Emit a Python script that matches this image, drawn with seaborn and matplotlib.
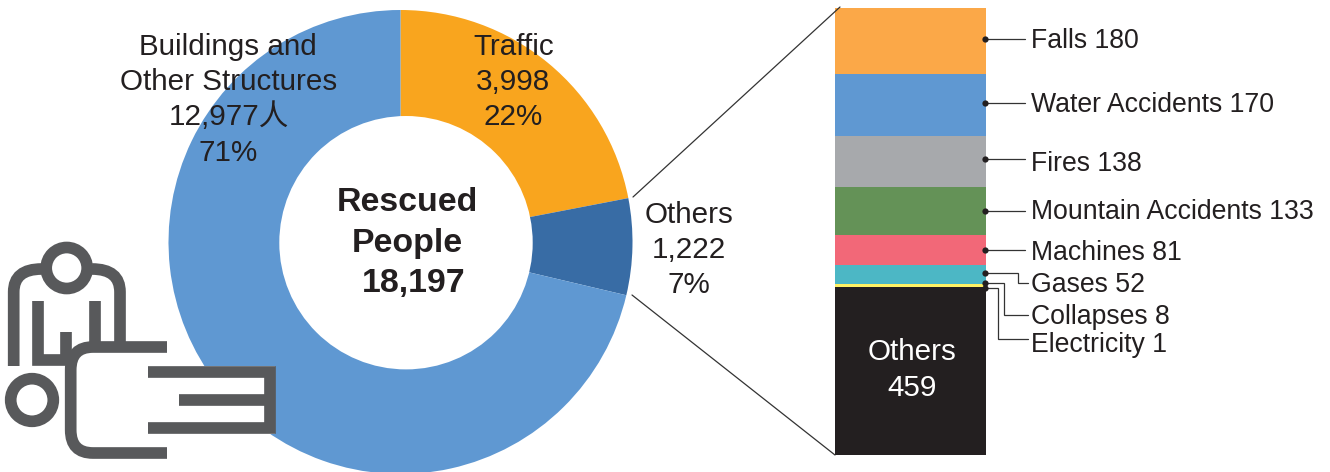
import numpy as np
import pandas as pd
import seaborn as sns
import matplotlib.pyplot as plt
from matplotlib.path import Path as MPath
from matplotlib.patches import PathPatch, Circle

# -----------------------------
# DATA
# -----------------------------
donut_names = ["Traffic", "Others", "Buildings and Other Structures"]
donut_values = [3998, 1222, 12977]
donut_colors = ["#f9a51e", "#386ca5", "#5f98d2"]

causes = ["Falls", "Water Accidents", "Fires", "Mountain Accidents", "Machines",
          "Gases", "Collapses", "Electricity", "Others"]
cause_values = [180, 170, 138, 133, 81, 52, 8, 1, 459]
cause_colors = ["#fba848", "#5f98d2", "#a7a9ac", "#649257", "#f26878",
                "#4cb7c5", "#fff164", "#fff164", "#231f20"]

W, H = 1330, 472
DARK = "#231f20"
ICON = "#58595b"

sns.set_theme(style="white")
plt.rcParams["font.family"] = ["Liberation Sans", "Noto Sans CJK SC", "DejaVu Sans"]

fig = plt.figure(figsize=(W / 100, H / 100), dpi=100)


def px_axes(left, top, right, bottom, **kw):
    return fig.add_axes([left / W, 1 - bottom / H, (right - left) / W, (bottom - top) / H], **kw)


# -----------------------------
# DONUT (the hole sits a little off centre in the original)
# -----------------------------
cx, cy, r = 400.5, 242, 232
ax_pie = px_axes(cx - r, cy - r, cx + r, cy + r)
ax_pie.pie(donut_values, colors=donut_colors, startangle=90, counterclock=False, radius=1,
           wedgeprops={"linewidth": 0})
ax_pie.add_patch(Circle(((406 - cx) / r, (cy - 242.7) / r), 126.7 / r, fc="white", ec="none", zorder=5))
ax_pie.set_xlim(-1, 1)
ax_pie.set_ylim(-1, 1)
ax_pie.axis("off")

# -----------------------------
# STACKED BAR
# -----------------------------
df = pd.DataFrame({"x": 0, "cause": causes, "value": cause_values})
ax_bar = px_axes(835, 8, 986, 455)
sns.histplot(data=df, x="x", weights="value", hue="cause", hue_order=causes,
             multiple="stack", discrete=True, shrink=1, palette=cause_colors,
             linewidth=0, alpha=1, legend=False, ax=ax_bar)
ax_bar.set_xlim(-0.5, 0.5)
ax_bar.set_ylim(0, sum(cause_values))
ax_bar.axis("off")

# -----------------------------
# OVERLAY IN PIXELS
# -----------------------------
ov = fig.add_axes([0, 0, 1, 1], zorder=5)
ov.set_xlim(0, W)
ov.set_ylim(H, 0)
ov.axis("off")
ov.patch.set_alpha(0)

ov.plot([633, 840], [197, 7], color="#333333", lw=0.9)
ov.plot([632, 835], [295, 455], color="#333333", lw=0.9)

# leader lines
leaders = [
    [(985, 39), (1025, 39)],
    [(985, 103), (1025, 103)],
    [(985, 159), (1025, 159)],
    [(985, 211), (1025, 211)],
    [(985, 250), (1025, 250)],
    [(985, 273), (1018, 273), (1018, 283), (1028, 283)],
    [(985, 283), (1004, 283), (1004, 315), (1028, 315)],
    [(985, 288), (998, 288), (998, 339), (1028, 339)],
]
for pts in leaders:
    xs, ys = zip(*pts)
    ov.plot(xs, ys, color="#333333", lw=0.9, solid_joinstyle="miter")
    ov.plot(xs[0], ys[0], "o", color=DARK, ms=4.5, mew=0)

# -----------------------------
# TEXT
# -----------------------------
left_lines = [
    ("Buildings and", 228, 55), ("Other Structures", 229, 90), ("12,977人", 229, 125), ("71%", 228, 161),
    ("Traffic", 514, 55), ("3,998", 513, 90), ("22%", 513, 125),
    ("Others", 689, 223), ("1,222", 689, 258), ("7%", 689, 293),
]
for s, x, y in left_lines:
    ov.text(x, y, s, ha="center", va="baseline", fontsize=21.3, color=DARK)

for s, x, y in [("Rescued", 407, 211), ("People", 407, 252), ("18,197", 414, 292)]:
    ov.text(x, y, s, ha="center", va="baseline", fontsize=24.4, fontweight="bold", color=DARK)

label_y = [48, 112, 171, 219, 260, 292, 324, 352]
for name, val, y in zip(causes[:-1], cause_values[:-1], label_y):
    ov.text(1031, y, f"{name} {val}", ha="left", va="baseline", fontsize=19.2, color=DARK)

ov.text(912, 360, causes[-1], ha="center", va="baseline", fontsize=21.3, color="white")
ov.text(912, 396, str(cause_values[-1]), ha="center", va="baseline", fontsize=21.3, color="white")

# -----------------------------
# ICON
# -----------------------------
M, L, C = MPath.MOVETO, MPath.LINETO, MPath.CURVE3
LW = 8.4


def stroke(verts, codes, fill="none", z=3):
    ov.add_patch(PathPatch(MPath(verts, codes), facecolor=fill, edgecolor=ICON, lw=LW,
                           capstyle="butt", joinstyle="miter", zorder=z))


# white body of the hand and the E block
ov.fill([70, 148, 148, 70], [347, 347, 453, 453], color="white", lw=0, zorder=2)
ov.fill([148, 275, 275, 148], [366, 366, 434, 434], color="white", lw=0, zorder=2)

ov.add_patch(Circle((66.7, 268), 20.5, fc="none", ec=ICON, lw=LW, zorder=3))
ov.add_patch(Circle((32, 400), 21.3, fc="none", ec=ICON, lw=LW, zorder=3))

# shoulders
stroke([(13.7, 366), (13.7, 292), (13.7, 269), (41.7, 269)], [M, L, C, C])
stroke([(120, 345), (120, 292), (120, 269), (92, 269)], [M, L, C, C])
# arms
stroke([(38.3, 300.7), (38.3, 360), (72, 360)], [M, L, L])
stroke([(66, 331.7), (66, 360)], [M, L])
stroke([(95, 300.7), (95, 345)], [M, L])
# hand
stroke([(167, 347), (93, 347), (70.7, 347), (70.7, 370), (70.7, 430), (70.7, 453), (93, 453), (167, 453)],
       [M, L, C, C, L, C, C, L])
# E block
stroke([(148, 371.7), (269.5, 371.7), (269.5, 428), (148, 428)], [M, L, L, L])
stroke([(179, 400), (269.5, 400)], [M, L])

fig.savefig("out.png", dpi=100)
